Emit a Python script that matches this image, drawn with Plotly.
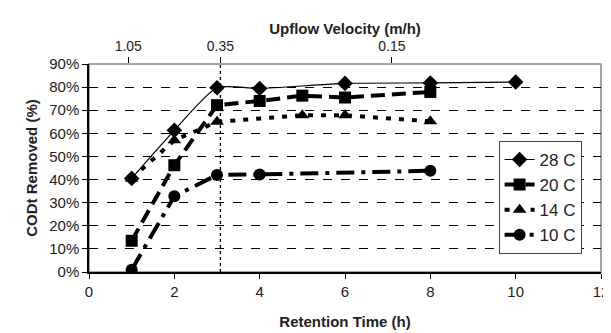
import plotly.graph_objects as go

# ---- data ----
x_28 = [1, 2, 3, 4, 6, 8, 10]
y_28 = [40.5, 61.3, 79.7, 79.4, 81.6, 81.8, 82.2]
x_20 = [1, 2, 3, 4, 5, 6, 8]
y_20 = [13.5, 46.2, 72.2, 74.0, 76.3, 75.5, 77.9]
x_14 = [1, 2, 3, 5, 6, 8]
y_14 = [40.5, 57.0, 65.0, 67.8, 67.8, 65.2]
x_10 = [1, 2, 3, 4, 8]
y_10 = [1.0, 32.8, 42.0, 42.2, 43.8]
series_names = ["28 C", "20 C", "14 C", "10 C"]

y_ticks = [0, 10, 20, 30, 40, 50, 60, 70, 80, 90]
y_tick_labels = [f"{v}%" for v in y_ticks]
x_ticks = [0, 2, 4, 6, 8, 10, 12]
top_tick_labels = ["1.05", "0.35", "0.15"]
top_tick_pos = [0.92, 3.08, 7.1]
divider_x = 3.08

FONT = "Liberation Sans, Arial, sans-serif"
TXT = "#222222"

fig = go.Figure()

fig.add_trace(go.Scatter(
    x=x_28, y=y_28, name=series_names[0], mode="lines+markers",
    line=dict(color="black", width=1.2, shape="spline", smoothing=0.6),
    marker=dict(symbol="diamond", size=12, color="black")))
fig.add_trace(go.Scatter(
    x=x_20, y=y_20, name=series_names[1], mode="lines+markers",
    line=dict(color="black", width=4, dash="14px,7px"),
    marker=dict(symbol="square", size=12, color="black")))
fig.add_trace(go.Scatter(
    x=x_14, y=y_14, name=series_names[2], mode="lines+markers",
    line=dict(color="black", width=4, dash="5px,8px"),
    marker=dict(symbol="triangle-up", size=12, color="black")))
fig.add_trace(go.Scatter(
    x=x_10, y=y_10, name=series_names[3], mode="lines+markers",
    line=dict(color="black", width=4, dash="18px,7px,4px,7px"),
    marker=dict(symbol="circle", size=12, color="black")))

# invisible trace to activate the top axis
fig.add_trace(go.Scatter(x=[0, 12], y=[None, None], xaxis="x2",
                         showlegend=False, hoverinfo="skip"))

# plot border (gray) and dotted divider
fig.add_shape(type="rect", xref="paper", yref="paper", x0=0, x1=1, y0=0, y1=1,
              line=dict(color="#888888", width=1.5), layer="below")
fig.add_shape(type="line", xref="x", yref="y", x0=divider_x, x1=divider_x,
              y0=0, y1=92, line=dict(color="black", width=1.3, dash="dot"))

fig.update_layout(
    width=611, height=333,
    margin=dict(l=81, r=18, t=56, b=69, autoexpand=False),
    plot_bgcolor="white", paper_bgcolor="white",
    font=dict(family=FONT, color=TXT, size=14),
    showlegend=True,
    legend=dict(x=0.8, y=0.63, xanchor="left", yanchor="top",
                bgcolor="white", bordercolor="#444444", borderwidth=1,
                font=dict(size=17, color=TXT), tracegroupgap=0,
                itemwidth=30),
    xaxis=dict(range=[0, 12], tickvals=x_ticks, ticks="outside", ticklen=5,
               tickcolor="black", showline=True, linecolor="black", linewidth=1.5,
               showgrid=False, zeroline=False, tickfont=dict(size=15, color=TXT),
               automargin=False,
               title=dict(text="<b>Retention Time (h)</b>", font=dict(size=15, color=TXT),
                          standoff=18)),
    xaxis2=dict(range=[0, 12], overlaying="x", side="top", tickvals=top_tick_pos,
                ticktext=top_tick_labels, ticks="outside", ticklen=6, tickcolor="black",
                showline=False, showgrid=False, zeroline=False, automargin=False,
                tickfont=dict(size=14, color=TXT),
                title=dict(text="<b>Upflow Velocity (m/h)</b>", font=dict(size=15, color=TXT),
                           standoff=0)),
    yaxis=dict(range=[0, 90], tickvals=y_ticks, ticktext=y_tick_labels,
               ticks="outside", ticklen=5, tickcolor="black",
               showline=True, linecolor="black", linewidth=1.5,
               showgrid=True, gridcolor="black", griddash="dash", gridwidth=1,
               zeroline=False, tickfont=dict(size=15, color=TXT), automargin=False,
               title=dict(text="<b>CODt Removed (%)</b>", font=dict(size=15, color=TXT),
                          standoff=8)),
)

fig.write_html("out.html")
